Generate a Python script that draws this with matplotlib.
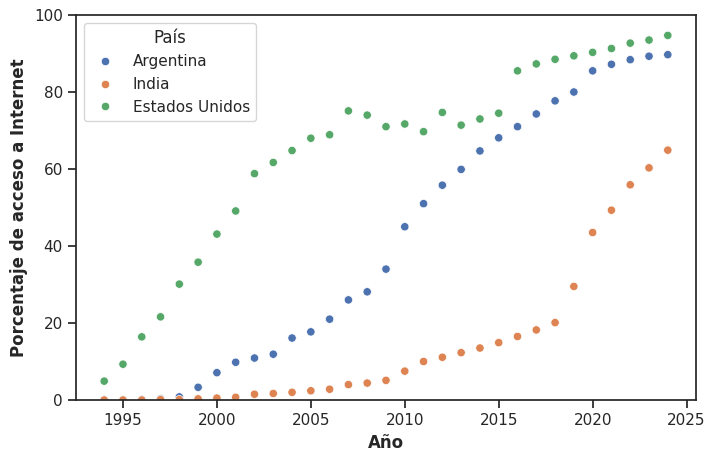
import pandas as pd
import numpy as np
import matplotlib
matplotlib.use('Agg')
import matplotlib.pyplot as plt
import seaborn as sns

# anios 1994-2024
anios = list(range(1994, 2025))

argentina = [0.0, 0.0, 0.1, 0.3, 0.8, 3.3, 7.1, 9.8, 10.9, 11.9,
             16.1, 17.7, 21.0, 26.0, 28.1, 34.0, 45.0, 51.0, 55.8, 59.9,
             64.7, 68.1, 71.0, 74.3, 77.7, 80.0, 85.5, 87.2, 88.4, 89.3, 89.7]

india = [0.0, 0.0, 0.0, 0.1, 0.1, 0.3, 0.5, 0.7, 1.5, 1.7,
         2.0, 2.4, 2.8, 4.0, 4.4, 5.1, 7.5, 10.0, 11.1, 12.3,
         13.5, 14.9, 16.5, 18.2, 20.1, 29.5, 43.5, 49.3, 55.9, 60.3, 64.9]

eeuu = [4.9, 9.3, 16.4, 21.6, 30.1, 35.8, 43.1, 49.1, 58.8, 61.7,
        64.8, 68.0, 68.9, 75.1, 74.0, 71.0, 71.7, 69.7, 74.7, 71.4,
        73.0, 74.5, 85.5, 87.3, 88.5, 89.4, 90.3, 91.3, 92.7, 93.5, 94.7]

paises = ['Argentina', 'India', 'Estados Unidos']

df = pd.DataFrame({
    'Año': anios * 3,
    'Porcentaje': argentina + india + eeuu,
    'País': [p for p in paises for _ in anios],
})

sns.set_theme(style='ticks')

fig, ax = plt.subplots(figsize=(7.15, 4.62), dpi=100)
fig.subplots_adjust(left=0.1063, right=0.9734, top=0.9675, bottom=0.1342)

sns.scatterplot(data=df, x='Año', y='Porcentaje', hue='País', ax=ax)

ax.set_ylim(0, 100)
ax.set_xlabel('Año', fontweight='bold')
ax.set_ylabel('Porcentaje de acceso a Internet', fontweight='bold')
ax.legend(title='País', loc='upper left')

plt.savefig('out.png', dpi=100)
